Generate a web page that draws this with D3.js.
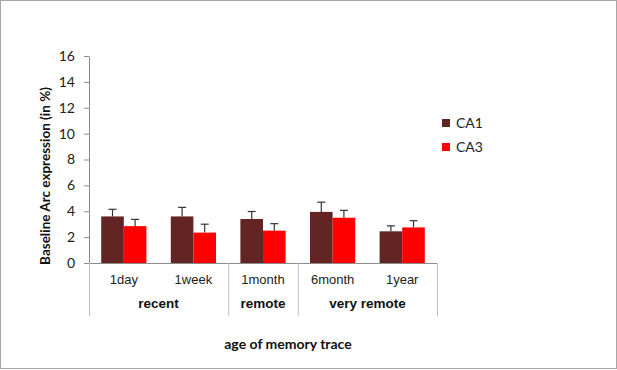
<!DOCTYPE html>
<html>
<head>
<meta charset="utf-8">
<script src="https://cdn.jsdelivr.net/npm/d3@7"></script>
<style>
  body { margin: 0; background: white; }
  svg { display: block; }
</style>
</head>
<body>
<div id="chart"></div>
<script>
const categories = ["1day", "1week", "1month", "6month", "1year"];
const groups = [
    {name: "recent", from: 0, to: 2},
    {name: "remote", from: 2, to: 3},
    {name: "very remote", from: 3, to: 5}
];
const seriesNames = ["CA1", "CA3"];
const ca1 = [3.6, 3.6, 3.4, 3.95, 2.45];
const ca3 = [2.85, 2.35, 2.5, 3.5, 2.75];
const ca1Err = [0.55, 0.7, 0.58, 0.75, 0.42];
const ca3Err = [0.52, 0.65, 0.54, 0.57, 0.52];
const yTicks = [0, 2, 4, 6, 8, 10, 12, 14, 16];

const width = 617, height = 370;
const margin = {top: 56, left: 89, right: 180, bottom: 107};
const colors = {CA1: "#632523", CA3: "#ff0000"};
const calibri = "Lato, 'Open Sans', sans-serif";
const arial = "'Liberation Sans', Arial, sans-serif";

const svg = d3.select("#chart").append("svg")
    .attr("width", width).attr("height", height);

svg.append("rect").attr("x", 0.5).attr("y", 0.5)
    .attr("width", width - 1).attr("height", height - 2)
    .attr("fill", "white").attr("stroke", "#a6a6a6");

const x = d3.scaleBand().domain(categories)
    .range([margin.left, width - margin.right]).paddingInner(0).paddingOuter(0);
const xs = d3.scaleBand().domain(seriesNames)
    .range([0, x.bandwidth()]).paddingInner(0).paddingOuter(0.54);
const y = d3.scaleLinear().domain([0, 16]).range([height - margin.bottom, margin.top]);

const baseY = y(0);
const axisColor = "#8c8c8c";

// y axis
const yAxis = svg.append("g").attr("transform", `translate(${margin.left},0)`)
    .call(d3.axisLeft(y).tickValues(yTicks).tickSize(5).tickPadding(9).tickSizeOuter(0));
yAxis.select(".domain").attr("stroke", axisColor);
yAxis.selectAll(".tick line").attr("stroke", axisColor);
yAxis.selectAll(".tick text").attr("font-family", calibri).attr("font-size", 14).attr("fill", "#222");

// bars
const rows = categories.map((c, i) => ({cat: c, vals: [
    {s: "CA1", v: ca1[i], e: ca1Err[i]},
    {s: "CA3", v: ca3[i], e: ca3Err[i]}
]}));

const catG = svg.append("g").selectAll("g").data(rows).join("g")
    .attr("transform", d => `translate(${x(d.cat)},0)`);

catG.selectAll("rect").data(d => d.vals).join("rect")
    .attr("x", d => xs(d.s)).attr("width", xs.bandwidth())
    .attr("y", d => y(d.v)).attr("height", d => baseY - y(d.v))
    .attr("fill", d => colors[d.s]);

const errG = catG.selectAll("g.err").data(d => d.vals).join("g").attr("class", "err");
errG.append("line")
    .attr("x1", d => xs(d.s) + xs.bandwidth() / 2).attr("x2", d => xs(d.s) + xs.bandwidth() / 2)
    .attr("y1", d => y(d.v)).attr("y2", d => y(d.v + d.e))
    .attr("stroke", "#333").attr("stroke-width", 1.2);
errG.append("line")
    .attr("x1", d => xs(d.s) + xs.bandwidth() / 2 - 4).attr("x2", d => xs(d.s) + xs.bandwidth() / 2 + 4)
    .attr("y1", d => y(d.v + d.e)).attr("y2", d => y(d.v + d.e))
    .attr("stroke", "#333").attr("stroke-width", 1.2);

// x axis baseline and group dividers
const xEnd = width - margin.right;
svg.append("line").attr("x1", margin.left).attr("x2", xEnd)
    .attr("y1", baseY + 0.5).attr("y2", baseY + 0.5).attr("stroke", axisColor);

const bottomY = 316;
const dividers = [0].concat(groups.map(g => g.to));
svg.append("g").selectAll("line").data(dividers).join("line")
    .attr("x1", d => (d < categories.length ? x(categories[d]) : xEnd) + 0.5)
    .attr("x2", d => (d < categories.length ? x(categories[d]) : xEnd) + 0.5)
    .attr("y1", baseY).attr("y2", bottomY)
    .attr("stroke", "#bfbfbf");

// category labels
svg.append("g").selectAll("text").data(categories).join("text")
    .attr("x", d => x(d) + x.bandwidth() / 2).attr("y", 284)
    .attr("text-anchor", "middle").attr("font-family", arial).attr("font-size", 13)
    .attr("fill", "#222").text(d => d);

// group labels
svg.append("g").selectAll("text").data(groups).join("text")
    .attr("x", d => (x(categories[d.from]) + (d.to < categories.length ? x(categories[d.to]) : xEnd)) / 2)
    .attr("y", 308)
    .attr("text-anchor", "middle").attr("font-family", arial).attr("font-size", 13.5)
    .attr("font-weight", "bold").attr("fill", "#111").text(d => d.name);

// axis titles
svg.append("text")
    .attr("transform", `translate(50,176) rotate(-90)`)
    .attr("text-anchor", "middle").attr("font-family", calibri).attr("font-size", 13.5)
    .attr("font-weight", "bold").attr("fill", "#111").text("Baseline Arc expression (in %)");

svg.append("text").attr("x", 288).attr("y", 349)
    .attr("text-anchor", "middle").attr("font-family", calibri).attr("font-size", 14)
    .attr("font-weight", "bold").attr("fill", "#111").text("age of memory trace");

// legend
const legend = svg.append("g").selectAll("g").data(seriesNames).join("g")
    .attr("transform", (d, i) => `translate(442,${119 + i * 24})`);
legend.append("rect").attr("width", 8).attr("height", 8).attr("fill", d => colors[d]);
legend.append("text").attr("x", 14).attr("y", 9)
    .attr("font-family", calibri).attr("font-size", 14).attr("fill", "#222").text(d => d);
</script>
</body>
</html>
